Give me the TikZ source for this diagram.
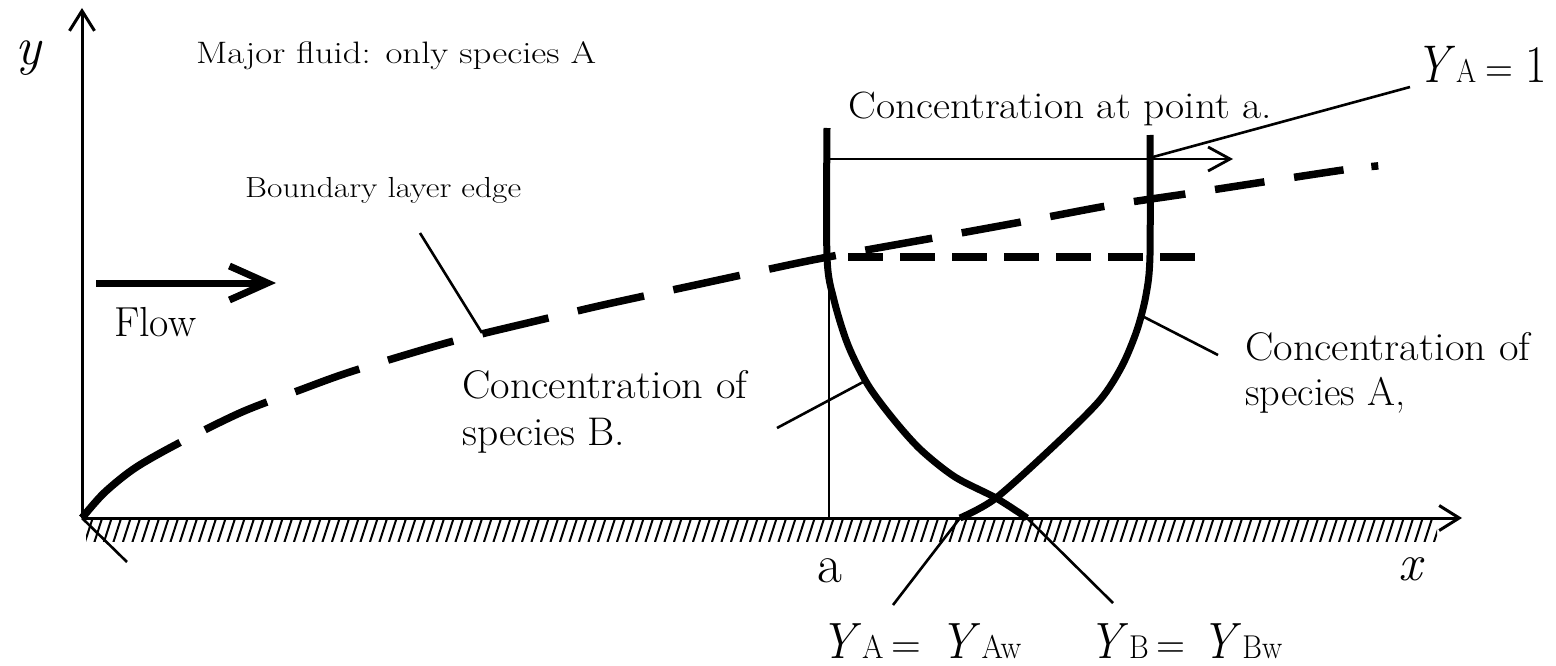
\documentclass[tikz,border=0pt]{standalone}
\usepackage{fontspec}
\usepackage{graphicx}
\usetikzlibrary{arrows.meta}
\newcommand{\fs}[2]{\fontsize{#1}{#2}\selectfont}
\newcommand{\fitw}[3]{\resizebox{#1}{\height}{\fs{#2}{#2}#3}}
\newcommand{\Yl}[1]{\textit{Y}\kern1pt{\fs{33}{33}\upshape #1}}
\newcommand{\eqs}[2]{\hspace{#1}{\fs{44}{44}\upshape =}\hspace{#2}}
\tikzset{
  axisln/.style={line width=3pt, -{Straight Barb[length=20pt,width=25pt]}},
  thinln/.style={line width=2.6pt},
  conccurve/.style={line width=7pt},
  blcurve/.style={line width=7.5pt, dash pattern=on 125pt off 28pt on 68pt off 30pt on 68pt off 30pt on 68pt off 30pt on 68pt off 30pt on 68pt off 30pt on 68pt off 30pt on 68pt off 30pt on 68pt off 30pt on 60pt off 30pt on 55pt off 30pt on 52pt off 30pt on 50pt off 30pt on 50pt off 28pt on 7pt off 300pt},
  hdash/.style={line width=7.5pt, dash pattern=on 35pt off 17pt},
  lbl/.style={inner sep=0pt, anchor=base west},
}
\begin{document}
\begin{tikzpicture}[x=1pt,y=-1pt]
\fill[white] (0,0) rectangle (1556,666);
\useasboundingbox (0,0) rectangle (1556,666);

% axes
\coordinate (O) at (82,518);
\coordinate (ytip) at (82,8);
\coordinate (xtip) at (1462,518);
\coordinate (odiag) at (127,562);
\draw[axisln] (O) -- (ytip);
\draw[axisln] (O) -- (xtip);
\draw[thinln] (O) -- (odiag);

% hatching of the wall
\begin{scope}
  \clip (86,520) rectangle (1437,541);
  \foreach \i in {0,...,150} \draw[line width=2pt] ({84+\i*9.5},545) -- ++(9,-28);
\end{scope}

% boundary layer edge
\draw[blcurve] plot[smooth, tension=0.5] coordinates {(82,518) (104,493) (135,468) (179,443) (242,412) (300,390) (353,371) (450,342) (540,320) (603,305) (700,284) (765,270) (828,257) (950,235) (1032,220) (1112,205) (1192,193) (1270,181) (1350,169) (1388,165)};

% station a
\coordinate (atop) at (829,128);
\coordinate (abot) at (829,518);
\draw[thinln] (atop) -- (abot);

% horizontal dashed level
\coordinate (hd1) at (848,257);
\coordinate (hd2) at (1195,257);
\draw[hdash] (hd1) -- (hd2);

% concentration profiles
\draw[conccurve] plot[smooth, tension=0.5] coordinates {(827,128) (827,257) (834,300) (848,345) (868,385) (894,420) (921,450) (955,477) (996,498) (1027,518)};
\draw[conccurve] plot[smooth, tension=0.5] coordinates {(1150,135) (1150,255) (1146,295) (1137,330) (1122,366) (1100,400) (1057,443) (996,498) (960,518)};

% concentration arrow
\coordinate (ca1) at (830,159);
\coordinate (ca2) at (1233,159);
\draw[line width=2.8pt, -{Straight Barb[length=22pt,width=24pt]}] (ca1) -- (ca2);

% flow arrow
\coordinate (f1) at (96,283);
\coordinate (f2) at (276,283);
\draw[line width=7pt, -{Straight Barb[length=38pt,width=34pt]}] (f1) -- (f2);

% texts
\node[lbl, font=\fs{54}{54}\itshape] (ylab) at (15,65) {y};
\node[lbl] (major) at (196,64) {\fitw{400pt}{31}{Major fluid: only species A}};
\node[lbl] (bledge) at (245,197) {\fitw{276pt}{29}{Boundary layer edge}};
\node[lbl] (flow) at (114,336) {\fitw{82pt}{42}{Flow}};
\node[lbl] (concpt) at (848,118) {\fitw{424pt}{38}{Concentration at point a.}};
\node[lbl] (concBa) at (462,398) {\fitw{285pt}{40}{Concentration of}};
\node[lbl] (concBb) at (462,445) {\fitw{163pt}{40}{species B.}};
\node[lbl] (concAa) at (1245,360) {\fitw{285pt}{40}{Concentration of}};
\node[lbl] (concAb) at (1245,405) {\fitw{160pt}{40}{species A,}};
\node[lbl] (ya1) at (1415,83) {\fitw{132pt}{53}{\Yl{A}\eqs{11pt}{14pt}1}};
\node[lbl, font=\fs{54}{54}] (alab) at (817,582) {a};
\node[lbl, font=\fs{52}{52}\itshape] (xlab) at (1398,580) {x};
\node[lbl] (yaw) at (820,658) {\fitw{201pt}{51}{\Yl{A}\eqs{8pt}{20pt}\Yl{Aw}}};
\node[lbl] (ybw) at (1088,658) {\fitw{194pt}{51}{\Yl{B}\eqs{8pt}{18pt}\Yl{Bw}}};

% leader lines
\coordinate (lbe1) at (420,233);
\coordinate (lbe2) at (482,333);
\draw[thinln] (lbe1) -- (lbe2);
\coordinate (lcb1) at (777,428);
\coordinate (lcb2) at (865,381);
\draw[thinln] (lcb1) -- (lcb2);
\coordinate (lca1) at (1144,317);
\coordinate (lca2) at (1218,355);
\draw[thinln] (lca1) -- (lca2);
\coordinate (lya1) at (1153,157);
\coordinate (lya2) at (1410,87);
\draw[thinln] (lya1) -- (lya2);
\coordinate (lwa1) at (960,518);
\coordinate (lwa2) at (893,605);
\draw[thinln] (lwa1) -- (lwa2);
\coordinate (lwb1) at (1027,518);
\coordinate (lwb2) at (1113,603);
\draw[thinln] (lwb1) -- (lwb2);
\end{tikzpicture}
\end{document}
